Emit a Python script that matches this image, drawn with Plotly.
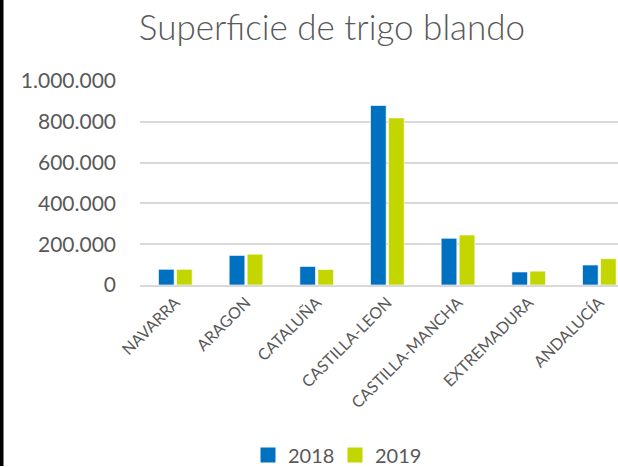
import plotly.graph_objects as go

categories = ["NAVARRA", "ARAGON", "CATALUÑA", "CASTILLA-LEON", "CASTILLA-MANCHA", "EXTREMADURA", "ANDALUCÍA"]
values_2018 = [77000, 145000, 91000, 880000, 229000, 64000, 98000]
values_2019 = [77000, 151000, 76000, 819000, 245000, 68000, 129000]
y_ticks = [0, 200000, 400000, 600000, 800000, 1000000]
y_tick_labels = ["0", "200.000", "400.000", "600.000", "800.000", "1.000.000"]
series_names = ["2018", "2019"]
series_colors = ["#0070C0", "#C4D600"]

W, H = 618, 467
L, T, B = 140, 81, 181.5
plot_w = W - L
cat_px = 70.67
x_max = -0.5 + plot_w / cat_px

txt = "#595959"
font_fam = "Lato, 'Open Sans', sans-serif"

fig = go.Figure()
for name, vals, col in zip(series_names, [values_2018, values_2019], series_colors):
    fig.add_trace(go.Bar(name=name, x=categories, y=vals, showlegend=False,
                         marker=dict(color=col, line=dict(color="rgba(255,255,255,0.8)", width=0.8))))
for name, col in zip(series_names, series_colors):
    fig.add_trace(go.Scatter(name=name, x=[None], y=[None], mode="markers",
                             marker=dict(symbol="square", size=15, color=col)))

fig.update_layout(
    width=W, height=H,
    margin=dict(l=L, r=0, t=T, b=B, autoexpand=False),
    paper_bgcolor="white", plot_bgcolor="white",
    font=dict(family=font_fam, color=txt),
    barmode="group", bargap=0.49, bargroupgap=0.13,
    title=dict(text="Superficie de trigo blando", xref="container", yref="container",
               x=332 / W, y=1 - 28 / H, xanchor="center", yanchor="middle",
               font=dict(size=35, color=txt, family=font_fam, weight=300)),
    legend=dict(orientation="h", xref="container", yref="container",
                x=335 / W, y=1 - 455 / H, xanchor="center", yanchor="middle",
                font=dict(size=20, color=txt), itemwidth=30, entrywidth=42,
                traceorder="normal"),
    showlegend=True,
)
fig.update_xaxes(range=[-0.5, x_max], tickangle=-45, tickfont=dict(size=16, color=txt),
                 showline=True, linecolor="#D9D9D9", linewidth=2, ticks="", automargin=False,
                 showgrid=False)
fig.update_yaxes(range=[0, 1000000], tickvals=y_ticks, ticktext=y_tick_labels,
                 tickfont=dict(size=21, color=txt), showgrid=True, gridcolor="#D9D9D9",
                 gridwidth=1.5, zeroline=False, showline=False, ticks="", automargin=False,
                 ticklabelstandoff=23)
fig.add_shape(type="rect", xref="paper", yref="paper",
              x0=-L / plot_w, x1=(-L + 3.5) / plot_w, y0=-B / (H - T - B), y1=(H - B) / (H - T - B) + 0.01,
              fillcolor="black", line=dict(width=0), layer="above")

fig.write_html("out.html", config={"displayModeBar": False})
with open("out.html", "r", encoding="utf-8") as f:
    html = f.read()
html = html.replace("<body>", "<body style=\"margin:0;overflow:hidden\">", 1)
with open("out.html", "w", encoding="utf-8") as f:
    f.write(html)
